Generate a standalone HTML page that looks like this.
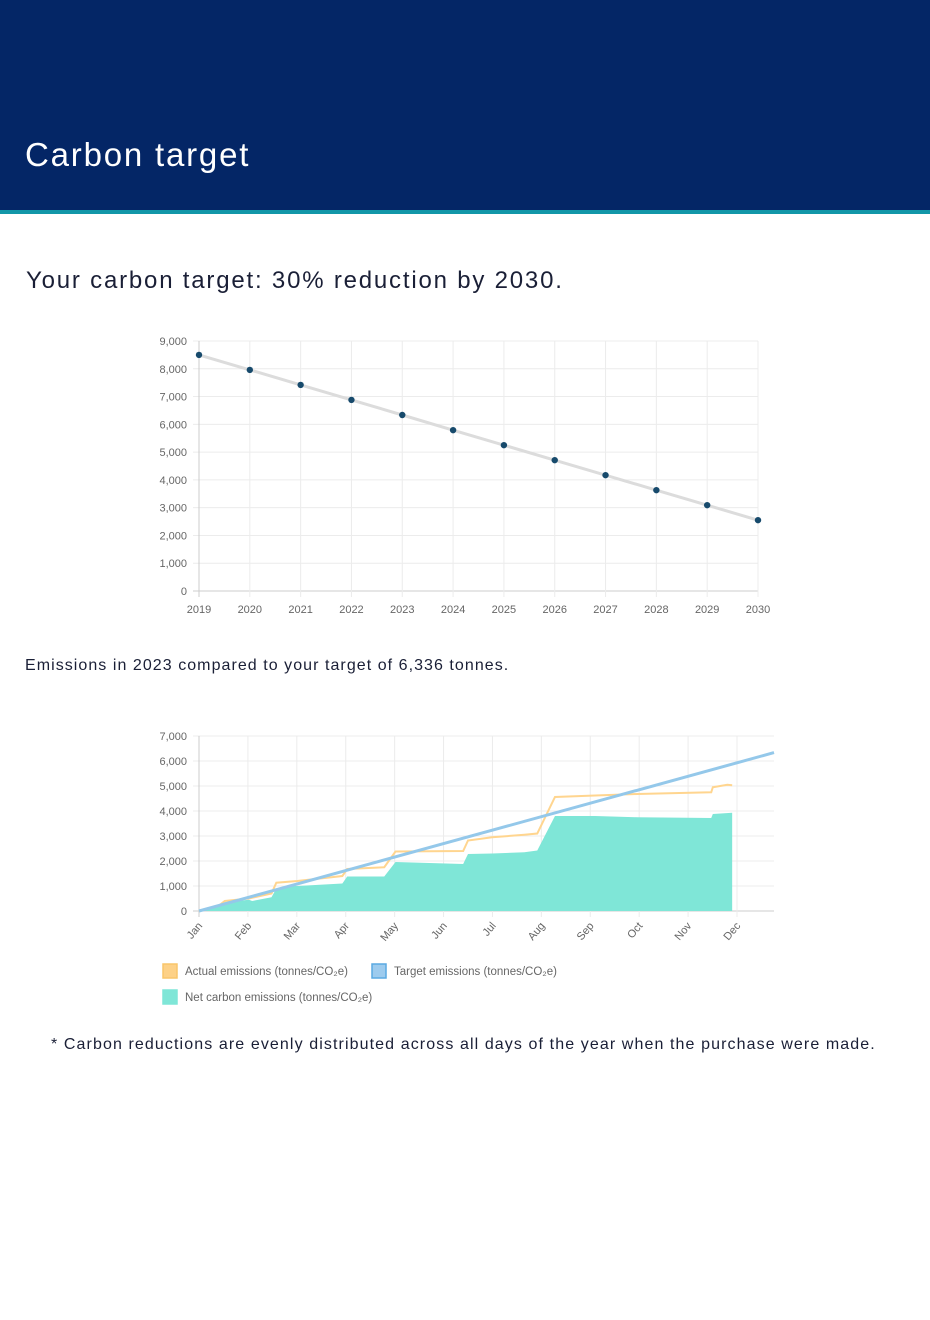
<!DOCTYPE html>
<html><head><meta charset="utf-8">
<style>
body{margin:0;width:930px;height:1320px;background:#fff;font-family:"Liberation Sans",sans-serif;position:relative;overflow:hidden}
.hdr{position:absolute;left:0;top:0;width:930px;height:210px;background:#042666;border-bottom:4px solid #1297a8}
.hdr h1{position:absolute;left:25px;top:135px;margin:0;font-weight:normal;font-size:33px;letter-spacing:1.8px;color:#fff;line-height:40px}
.t{position:absolute;color:#1a1f36}
svg{position:absolute;left:0;top:0}
svg text{font-family:"Liberation Sans",sans-serif}
</style></head><body>
<div class="hdr"><h1>Carbon target</h1></div>
<div class="t" style="left:26px;top:267px;font-size:24px;letter-spacing:1.8px">Your carbon target: 30% reduction by 2030.</div>
<div class="t" style="left:25px;top:657px;font-size:16px;letter-spacing:1.05px">Emissions in 2023 compared to your target of 6,336 tonnes.</div>
<div class="t" style="left:51px;top:1036px;font-size:16px;letter-spacing:1.1px">* Carbon reductions are evenly distributed across all days of the year when the purchase were made.</div>
<svg id="c1" width="930" height="1320"></svg>
<svg id="c2" width="930" height="1320"></svg>
<script>
const years=["2019","2020","2021","2022","2023","2024","2025","2026","2027","2028","2029","2030"];
const targetValues=[8500,7960,7420,6880,6336,5790,5250,4710,4170,3630,3090,2550];
const yTicks1=[0,1000,2000,3000,4000,5000,6000,7000,8000,9000];
const months=["Jan","Feb","Mar","Apr","May","Jun","Jul","Aug","Sep","Oct","Nov","Dec"];
const yTicks2=[0,1000,2000,3000,4000,5000,6000,7000];
const actualDays=[0,12,16,31,45,48,61,89,92,115,122,164,167,182,202,210,221,246,272,318,319,328,331];
const actualValues=[0,200,400,500,700,1130,1200,1400,1680,1750,2380,2400,2820,2950,3050,3100,4560,4620,4680,4750,4950,5050,5030];
const netDays=[0,12,16,31,33,45,48,58,61,89,92,115,122,164,167,182,202,210,221,246,272,318,319,331];
const netValues=[0,200,350,450,400,550,900,1000,1000,1100,1380,1380,1960,1880,2280,2300,2350,2420,3800,3800,3750,3720,3880,3930];
const annualTarget=6336;
const NS="http://www.w3.org/2000/svg";
function mk(p,tag,a,txt){const e=document.createElementNS(NS,tag);for(const k in a)e.setAttribute(k,a[k]);if(txt!==undefined)e.textContent=txt;p.appendChild(e);return e;}
const fmt=v=>v.toLocaleString("en-US");
(function(){
const s=document.getElementById('c1');
const x=i=>199+i*(758-199)/(years.length-1);
const y=v=>591-v*(591-341)/9000;
yTicks1.forEach(v=>{const l=mk(s,'line',{x1:193,x2:758,y1:y(v),y2:y(v),stroke:v===0?'#ccc':'#ececec'});

const t=mk(s,'text',{x:187,y:y(v)+4,'text-anchor':'end','font-size':11,fill:'#666'},fmt(v));
});
years.forEach((yr,i)=>{const l=mk(s,'line',{x1:x(i),x2:x(i),y1:341,y2:597,stroke:i===0?'#ccc':'#ececec'});

const t=mk(s,'text',{x:x(i),y:613,'text-anchor':'middle','font-size':11,fill:'#666'},yr);
});
const ln=mk(s,'polyline',{points:targetValues.map((v,i)=>x(i)+','+y(v)).join(' '),fill:'none',stroke:'#dcdcdc','stroke-width':3});

targetValues.forEach((v,i)=>{const c=mk(s,'circle',{cx:x(i),cy:y(v),r:3.2,fill:'#174a6c'});
});
})();
(function(){
const s=document.getElementById('c2');
const x=d=>199+d*538/334;
const xm=i=>199+i*538/11;
const y=v=>911-v*25/1000;
yTicks2.forEach(v=>{const l=mk(s,'line',{x1:193,x2:774,y1:y(v),y2:y(v),stroke:v===0?'#ccc':'#ececec'});

const t=mk(s,'text',{x:187,y:y(v)+4,'text-anchor':'end','font-size':11,fill:'#666'},fmt(v));
});
months.forEach((m,i)=>{const xx=xm(i);
const l=mk(s,'line',{x1:xx,x2:xx,y1:736,y2:917,stroke:i===0?'#ccc':'#ececec'});

const t=mk(s,'text',{x:xx+4,y:926,'text-anchor':'end','font-size':11,fill:'#666',transform:`rotate(-50 ${xx+4} 926)`},m);
});
const area=mk(s,'polygon',{points:netDays.map((d,i)=>x(d)+','+y(netValues[i])).join(' ')+' '+x(netDays[netDays.length-1])+','+y(0),fill:'#7fe6d7'});

const act=mk(s,'polyline',{points:actualDays.map((d,i)=>x(d)+','+y(actualValues[i])).join(' '),fill:'none',stroke:'#ffd58f','stroke-width':2});

const tg=mk(s,'line',{x1:x(0),y1:y(0),x2:774,y2:y(annualTarget),stroke:'#94c8ea','stroke-width':3});

const leg=[[163,964,'#fdd187','#f9c56a','Actual emissions (tonnes/CO₂e)'],[372,964,'#9dcbee','#5aa9e2','Target emissions (tonnes/CO₂e)'],[163,990,'#7fe6d7','#7fe6d7','Net carbon emissions (tonnes/CO₂e)']];
leg.forEach(L=>{const r=mk(s,'rect',{x:L[0],y:L[1],width:14,height:14,fill:L[2],stroke:L[3],'stroke-width':1.5});

const t=mk(s,'text',{x:L[0]+22,y:L[1]+11,'font-size':11.5,fill:'#666'},L[4]);
});
})();
</script>
</body></html>
